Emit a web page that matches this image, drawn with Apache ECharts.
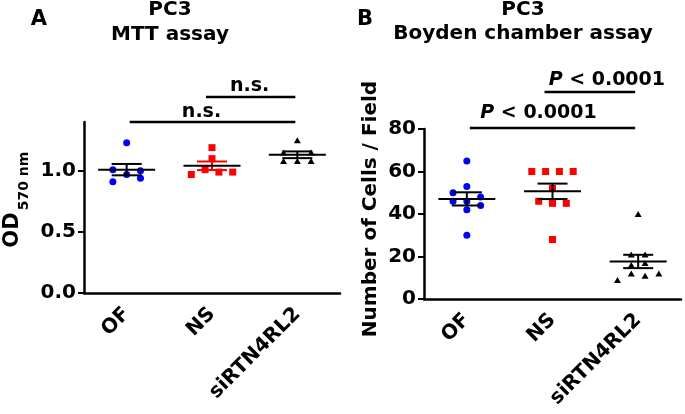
<!DOCTYPE html>
<html><head><meta charset="utf-8">
<script src="https://cdn.jsdelivr.net/npm/echarts@6/dist/echarts.min.js"></script>
<style>html,body{margin:0;padding:0;background:#fff}#c{width:685px;height:414px}</style>
</head><body><div id="c"></div>
<script>
// ---------------- data ----------------
const categories = ['OF', 'NS', 'siRTN4RL2'];
// Panel A: PC3 MTT assay, OD 570 nm
const mttOF = [1.23, 1.01, 1.00, 0.97, 0.91, 0.94];
const mttNS = [1.19, 1.10, 1.01, 0.99, 0.97, 0.99];
const mttSi = [1.25, 1.15, 1.15, 1.08, 1.08, 1.08];
// Panel B: PC3 Boyden chamber assay, cells / field
const boydenOF = [65, 53, 50, 46, 46, 48, 44, 42, 30];
const boydenNS = [60, 60, 60, 60, 52, 46, 45, 45, 28];
const boydenSi = [40, 21, 21, 16, 17, 12, 11, 12, 9];
const ticksA = [0, 0.5, 1.0];
const ticksB = [0, 20, 40, 60, 80];
const sigTextA = ['n.s.', 'n.s.'];
const sigTextB = ['P < 0.0001', 'P < 0.0001'];

// ---------------- layout / style ----------------
const FONT = '"DejaVu Sans", Arial, Helvetica, sans-serif';
const STEP = 13.8;           // beeswarm column spacing (px)
const slotsA = [[0,-1,1,0,-1,1],[0,0,-0.5,0.5,-1.5,1.5],[0,-1,1,-1,0,1]];
const slotsB = [[0,0,-1,-1,0,1,1,0,0],[-1.5,-0.5,0.5,1.5,0,-1,0,1,0],[0,-0.5,0.5,-0.5,0.5,-0.5,0.5,1.5,-1.5]];
const ptColors = ['#0000ff', '#ff0000', '#000000'];
const ptSymbols = ['circle', 'rect', 'triangle'];
const ptSizes = [7, 7, [7, 6]];
const barColorsA = ['#000', '#ff0000', '#000'];
const barColorsB = ['#000', '#000', '#000'];
const gridA = {left: 84, top: 122, width: 256, height: 171};
const gridB = {left: 424, top: 129, width: 257, height: 170};
const annA = [
  {from: 0, to: 2, x0: 3, x1: -2, lift: 0, dx: -11, dy: -10, text: sigTextA[0]},
  {from: 1, to: 2, x0: -6, x1: -2, lift: 25, dx: -1, dy: -11, text: sigTextA[1]}
];
const annB = [
  {from: 0, to: 2, x0: 3, x1: -3, lift: 1, dx: -14, dy: -15, text: sigTextB[0]},
  {from: 1, to: 2, x0: -8, x1: -3, lift: 37, dx: 17, dy: -12, text: sigTextB[1]}
];

function meanSem(a) {
  const n = a.length, m = a.reduce((s, v) => s + v, 0) / n;
  const sd = Math.sqrt(a.reduce((s, v) => s + (v - m) * (v - m), 0) / (n - 1));
  return [m, sd / Math.sqrt(n)];
}

function xAxis(idx) {
  return {
    type: 'category', gridIndex: idx, data: categories, boundaryGap: true,
    axisLine: {lineStyle: {color: '#000', width: 2.5}},
    axisTick: {alignWithLabel: true, length: 6, lineStyle: {color: '#000', width: 2}},
    axisLabel: {rotate: 45, margin: 18, color: '#000', fontSize: 20, fontWeight: 'bold', fontFamily: FONT},
    splitLine: {show: false}
  };
}
function yAxis(idx, max, ticks, digits) {
  return {
    type: 'value', gridIndex: idx, min: 0, max: max,
    axisLine: {show: true, lineStyle: {color: '#000', width: 2.5}},
    axisTick: {show: true, length: 6, customValues: ticks, lineStyle: {color: '#000', width: 2}},
    axisLabel: {customValues: ticks, margin: 8, color: '#000', fontSize: 20, fontWeight: 'bold', fontFamily: FONT,
      formatter: v => v.toFixed(digits)},
    splitLine: {show: false}
  };
}

function scatterSeries(panel, groups, slots) {
  return groups.map((arr, g) => ({
    type: 'scatter', xAxisIndex: panel, yAxisIndex: panel, z: 2,
    symbol: ptSymbols[g], symbolSize: ptSizes[g],
    itemStyle: {color: ptColors[g], opacity: 1},
    emphasis: {disabled: true}, silent: true,
    data: arr.map((v, i) => ({value: [g, v], symbolOffset: [slots[g][i] * STEP, 0]}))
  }));
}

function meanSeries(panel, groups, colors) {
  const stats = groups.map((arr, g) => { const ms = meanSem(arr); return [g, ms[0], ms[1]]; });
  return {
    type: 'custom', xAxisIndex: panel, yAxisIndex: panel, z: 5, silent: true,
    data: stats, encode: {x: 0, y: 1},
    renderItem: function (params, api) {
      const g = api.value(0), m = api.value(1), s = api.value(2);
      const c = api.coord([g, m]), t = api.coord([g, m + s]), b = api.coord([g, m - s]);
      const col = colors[params.dataIndex];
      const st = {stroke: col, lineWidth: 2};
      return {type: 'group', children: [
        {type: 'line', shape: {x1: c[0] - 15, y1: t[1], x2: c[0] + 15, y2: t[1]}, style: st},
        {type: 'line', shape: {x1: c[0] - 15, y1: b[1], x2: c[0] + 15, y2: b[1]}, style: st},
        {type: 'line', shape: {x1: c[0], y1: t[1], x2: c[0], y2: b[1]}, style: st},
        {type: 'line', shape: {x1: c[0] - 28.5, y1: c[1], x2: c[0] + 28.5, y2: c[1]}, style: {stroke: '#000', lineWidth: 2}}
      ]};
    }
  };
}

function sigSeries(panel, ann, grid) {
  return {
    type: 'custom', xAxisIndex: panel, yAxisIndex: panel, z: 6, silent: true, clip: false,
    data: ann.map((a, i) => [a.from, 0, i]),
    encode: {x: 0, y: 1},
    renderItem: function (params, api) {
      const a = ann[params.dataIndex];
      const p0 = api.coord([a.from, 0]), p1 = api.coord([a.to, 0]);
      const y = grid.top - a.lift;
      const x0 = p0[0] + a.x0, x1 = p1[0] + a.x1;
      const isP = a.text.charAt(0) === 'P';
      const txt = isP ? '{i|P}{n|' + a.text.slice(1) + '}' : '{n|' + a.text + '}';
      const base = {fontSize: 19, fontWeight: 'bold', fontFamily: FONT, fill: '#000'};
      return {type: 'group', children: [
        {type: 'line', shape: {x1: x0, y1: y, x2: x1, y2: y}, style: {stroke: '#000', lineWidth: 2.5}},
        {type: 'text', x: (x0 + x1) / 2 + a.dx, y: y + a.dy,
          style: {text: txt, align: 'center', verticalAlign: 'middle',
            rich: {i: Object.assign({fontStyle: 'italic'}, base), n: Object.assign({}, base)}}}
      ]};
    }
  };
}

function gtext(text, x, y, size, rot) {
  return {type: 'text', x: x, y: y, rotation: rot || 0,
    style: {text: text, fontSize: size, fontWeight: 'bold', fontFamily: FONT, fill: '#000',
      align: 'center', verticalAlign: 'middle'}};
}

const groupsA = [mttOF, mttNS, mttSi];
const groupsB = [boydenOF, boydenNS, boydenSi];

const chart = echarts.init(document.getElementById('c'), null, {renderer: 'canvas'});
chart.setOption({
  animation: false,
  backgroundColor: '#fff',
  grid: [Object.assign({containLabel: false}, gridA), Object.assign({containLabel: false}, gridB)],
  xAxis: [xAxis(0), xAxis(1)],
  yAxis: [yAxis(0, 1.4, ticksA, 1), yAxis(1, 80, ticksB, 0)],
  series: [].concat(
    scatterSeries(0, groupsA, slotsA),
    scatterSeries(1, groupsB, slotsB),
    [meanSeries(0, groupsA, barColorsA), meanSeries(1, groupsB, barColorsB),
     sigSeries(0, annA, gridA), sigSeries(1, annB, gridB)]
  ),
  graphic: [
    gtext('A', 39, 20, 21),
    gtext('PC3', 170, 10, 20),
    gtext('MTT assay', 170, 35, 20),
    gtext('B', 365, 20, 21),
    gtext('PC3', 523, 10, 20),
    gtext('Boyden chamber assay', 523, 34, 20),
    gtext('OD', 13, 230, 21, Math.PI / 2),
    gtext('570 nm', 24, 181, 14, Math.PI / 2),
    gtext('Number of Cells / Field', 371, 209, 20, Math.PI / 2)
  ]
});
</script></body></html>
